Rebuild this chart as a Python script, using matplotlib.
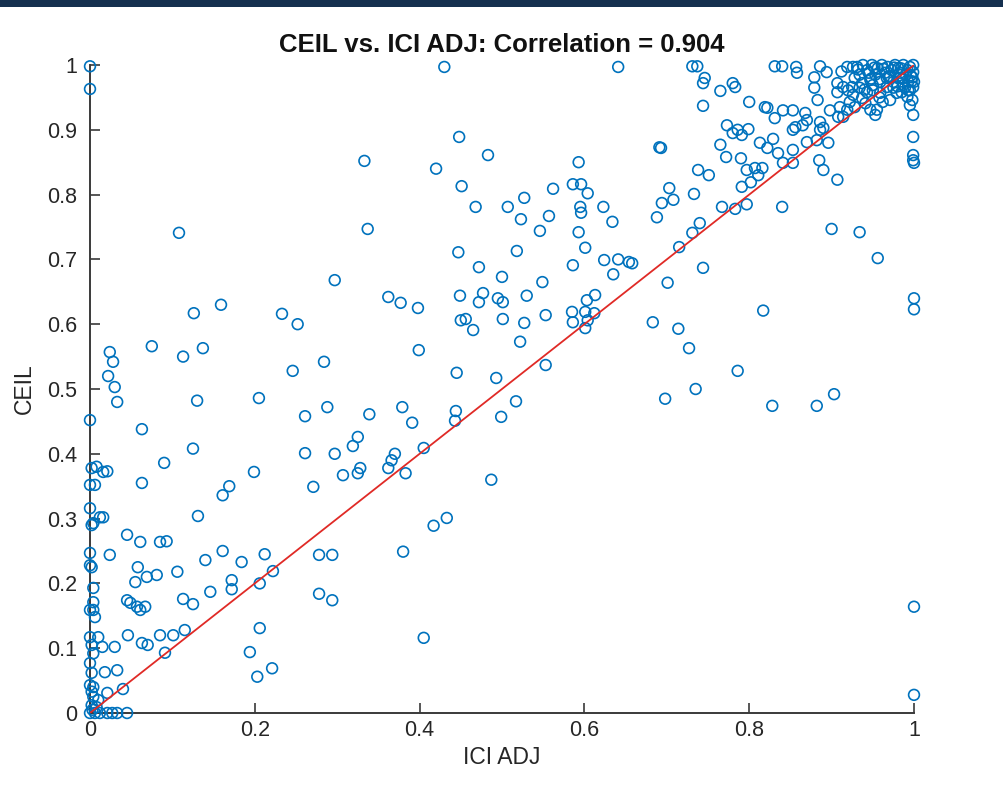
import matplotlib
matplotlib.use("Agg")
import matplotlib.pyplot as plt
from matplotlib.patches import Rectangle

plt.rcParams['font.family'] = ['Liberation Sans', 'DejaVu Sans']

# ICI ADJ (x) and CEIL (y) pairs
ici_zero_col = [0.0, 0.0, 0.0, 0.002, 0.0, 0.006, 0.0, 0.004, 0.008, 0.016, 0.021, 0.012, 0.016,
                0.002, 0.0, 0.0, 0.002, 0.004, 0.004, 0.0, 0.004, 0.006, 0.0, 0.010, 0.002, 0.015,
                0.004, 0.030, 0.0, 0.002, 0.0, 0.004, 0.002, 0.004, 0.021, 0.018, 0.033, 0.040,
                0.002, 0.008, 0.0, 0.006, 0.012, 0.021, 0.027, 0.033, 0.045, 0.003, 0.010]
ceil_zero_col = [0.998, 0.963, 0.452, 0.378, 0.352, 0.352, 0.316, 0.293, 0.380, 0.372, 0.373, 0.302, 0.302,
                 0.290, 0.247, 0.228, 0.225, 0.193, 0.171, 0.159, 0.159, 0.148, 0.117, 0.117, 0.105, 0.102,
                 0.092, 0.102, 0.077, 0.062, 0.043, 0.040, 0.033, 0.025, 0.031, 0.063, 0.066, 0.037,
                 0.012, 0.009, 0.0, 0.0, 0.0, 0.0, 0.0, 0.0, 0.0, 0.005, 0.020]

ici_low = [0.024, 0.045, 0.061, 0.085, 0.093, 0.058, 0.055, 0.069, 0.081, 0.106, 0.045, 0.049, 0.057,
           0.061, 0.067, 0.113, 0.125, 0.140, 0.161, 0.146, 0.172, 0.172, 0.184, 0.212, 0.206, 0.222,
           0.278, 0.294, 0.278, 0.294, 0.046, 0.063, 0.070, 0.085, 0.101, 0.115, 0.091, 0.194, 0.206,
           0.203, 0.221, 0.024, 0.028, 0.022, 0.030, 0.033, 0.075, 0.113, 0.137, 0.126, 0.159, 0.130,
           0.063, 0.090, 0.125, 0.063, 0.131, 0.161, 0.169, 0.199, 0.205, 0.233, 0.252, 0.246, 0.284,
           0.261, 0.288, 0.261, 0.297, 0.271, 0.307, 0.319, 0.325, 0.328, 0.325, 0.297, 0.108, 0.333]
ceil_low = [0.244, 0.275, 0.264, 0.264, 0.265, 0.225, 0.202, 0.210, 0.213, 0.218, 0.174, 0.170, 0.164,
            0.159, 0.164, 0.176, 0.168, 0.236, 0.250, 0.187, 0.205, 0.191, 0.233, 0.245, 0.200, 0.219,
            0.244, 0.244, 0.184, 0.174, 0.120, 0.108, 0.105, 0.120, 0.120, 0.128, 0.093, 0.094, 0.131,
            0.056, 0.069, 0.557, 0.542, 0.520, 0.503, 0.480, 0.566, 0.550, 0.563, 0.617, 0.630, 0.482,
            0.438, 0.386, 0.408, 0.355, 0.304, 0.336, 0.350, 0.372, 0.486, 0.616, 0.600, 0.528, 0.542,
            0.458, 0.472, 0.401, 0.400, 0.349, 0.367, 0.412, 0.426, 0.378, 0.370, 0.668, 0.741, 0.852]

ici_mid = [0.430, 0.641, 0.448, 0.483, 0.420, 0.451, 0.593, 0.468, 0.507, 0.527, 0.523, 0.557, 0.562,
           0.586, 0.596, 0.604, 0.595, 0.596, 0.623, 0.634, 0.546, 0.593, 0.337, 0.601, 0.447, 0.518,
           0.586, 0.624, 0.641, 0.654, 0.658, 0.472, 0.635, 0.500, 0.549, 0.362, 0.377, 0.398, 0.449,
           0.477, 0.472, 0.495, 0.501, 0.530, 0.450, 0.456, 0.465, 0.501, 0.527, 0.553, 0.522, 0.585,
           0.603, 0.613, 0.601, 0.612, 0.586, 0.604, 0.601, 0.399, 0.445, 0.493, 0.553, 0.379, 0.339,
           0.391, 0.444, 0.443, 0.517, 0.499, 0.370, 0.366, 0.362, 0.383, 0.405, 0.487, 0.433, 0.417,
           0.380, 0.405]
ceil_mid = [0.997, 0.997, 0.889, 0.861, 0.840, 0.813, 0.850, 0.781, 0.781, 0.795, 0.762, 0.767, 0.809,
            0.816, 0.816, 0.802, 0.781, 0.772, 0.781, 0.758, 0.744, 0.742, 0.747, 0.718, 0.711, 0.713,
            0.691, 0.699, 0.700, 0.696, 0.694, 0.688, 0.677, 0.673, 0.665, 0.642, 0.633, 0.625, 0.644,
            0.648, 0.634, 0.640, 0.634, 0.644, 0.606, 0.608, 0.591, 0.608, 0.602, 0.614, 0.573, 0.619,
            0.637, 0.645, 0.619, 0.617, 0.603, 0.606, 0.594, 0.560, 0.525, 0.517, 0.537, 0.472, 0.461,
            0.448, 0.466, 0.451, 0.481, 0.457, 0.400, 0.390, 0.378, 0.370, 0.409, 0.360, 0.301, 0.289,
            0.249, 0.116]

ici_high = [0.731, 0.737, 0.746, 0.744, 0.765, 0.780, 0.783, 0.800, 0.744, 0.831, 0.840, 0.857, 0.858,
            0.886, 0.879, 0.894, 0.907, 0.919, 0.926, 0.819, 0.822, 0.831, 0.841, 0.853, 0.868, 0.870,
            0.865, 0.853, 0.856, 0.883, 0.898, 0.910, 0.886, 0.890, 0.886, 0.908, 0.896, 0.882, 0.870,
            0.773, 0.786, 0.780, 0.799, 0.791, 0.691, 0.693, 0.765, 0.772, 0.790, 0.813, 0.822, 0.829,
            0.835, 0.853, 0.841, 0.853, 0.885, 0.890, 0.907, 0.738, 0.751, 0.797, 0.807, 0.816, 0.811,
            0.802, 0.791, 0.703, 0.708, 0.694, 0.688, 0.733, 0.767, 0.783, 0.797, 0.840, 0.740, 0.731,
            0.715, 0.900, 0.934, 0.956, 0.744, 0.701, 0.999, 0.999, 0.999, 0.999, 1.000, 0.998, 0.995,
            0.999, 0.971, 0.683, 0.714, 0.727, 0.817, 0.786, 0.698, 0.735, 0.828, 0.882, 0.903, 1.000,
            1.000, 1.000, 1.000]
ceil_high = [0.998, 0.998, 0.980, 0.972, 0.960, 0.972, 0.966, 0.943, 0.937, 0.998, 0.998, 0.997, 0.988,
             0.998, 0.981, 0.989, 0.972, 0.997, 0.997, 0.935, 0.934, 0.918, 0.930, 0.930, 0.926, 0.915,
             0.907, 0.900, 0.904, 0.946, 0.930, 0.935, 0.912, 0.903, 0.900, 0.920, 0.880, 0.884, 0.881,
             0.907, 0.900, 0.895, 0.901, 0.892, 0.873, 0.872, 0.877, 0.858, 0.856, 0.880, 0.872, 0.886,
             0.864, 0.869, 0.849, 0.849, 0.853, 0.838, 0.823, 0.838, 0.830, 0.838, 0.841, 0.841, 0.830,
             0.819, 0.812, 0.810, 0.792, 0.787, 0.765, 0.801, 0.781, 0.778, 0.785, 0.781, 0.756, 0.741,
             0.719, 0.747, 0.742, 0.702, 0.687, 0.664, 0.923, 0.889, 0.861, 0.853, 0.849, 0.946, 0.961,
             0.966, 0.946, 0.603, 0.593, 0.563, 0.621, 0.528, 0.485, 0.500, 0.474, 0.474, 0.492, 0.640,
             0.623, 0.164, 0.028]

ici_top = [0.931, 0.934, 0.938, 0.943, 0.949, 0.953, 0.956, 0.961, 0.965, 0.968, 0.973, 0.977, 0.981,
           0.983, 0.987, 0.992, 0.995, 0.999, 0.999, 0.998, 1.000, 0.993, 0.987, 0.989, 0.993, 0.983,
           0.975, 0.967, 0.959, 0.950, 0.947, 0.937, 0.928, 0.925, 0.934, 0.943, 0.950, 0.967, 0.959,
           0.937, 0.926, 0.920, 0.914, 0.907, 0.922, 0.928, 0.941, 0.947, 0.955, 0.953, 0.992, 0.995,
           0.975, 0.979, 0.985, 0.962, 0.919, 0.914, 0.879, 0.940, 0.958, 0.971, 0.980, 0.990, 0.997,
           0.945, 0.963, 0.976, 0.986, 0.912, 0.932, 0.952, 0.969, 0.984, 0.996, 0.958, 0.948]
ceil_top = [0.997, 0.985, 1.000, 0.992, 1.000, 0.985, 0.995, 1.000, 0.988, 0.997, 0.992, 1.000, 0.995,
            0.988, 1.000, 0.992, 0.997, 1.000, 0.989, 0.981, 0.974, 0.974, 0.969, 0.965, 0.961, 0.980,
            0.974, 0.980, 0.974, 0.969, 0.977, 0.972, 0.980, 0.966, 0.965, 0.958, 0.961, 0.966, 0.957,
            0.949, 0.954, 0.961, 0.966, 0.958, 0.943, 0.935, 0.941, 0.931, 0.931, 0.923, 0.951, 0.938,
            0.965, 0.957, 0.958, 0.943, 0.931, 0.920, 0.965, 0.962, 0.978, 0.983, 0.967, 0.985, 0.975,
            0.988, 0.994, 0.996, 0.979, 0.990, 0.993, 0.996, 0.982, 0.995, 0.984, 0.950, 0.979]

ici_adj = ici_zero_col + ici_low + ici_mid + ici_high + ici_top
ceil_vals = ceil_zero_col + ceil_low + ceil_mid + ceil_high + ceil_top

correlation = 0.904
x_ticks = [0, 0.2, 0.4, 0.6, 0.8, 1]
x_tick_labels = ['0', '0.2', '0.4', '0.6', '0.8', '1']
y_ticks = [0, 0.1, 0.2, 0.3, 0.4, 0.5, 0.6, 0.7, 0.8, 0.9, 1]
y_tick_labels = ['0', '0.1', '0.2', '0.3', '0.4', '0.5', '0.6', '0.7', '0.8', '0.9', '1']
ref_line = [0, 1]

fig = plt.figure(figsize=(10.04, 7.95), dpi=100)
fig.patches.append(Rectangle((0, 1 - 7 / 795), 1, 7 / 795, transform=fig.transFigure,
                             facecolor='#15304f', edgecolor='none', zorder=0))
ax = fig.add_axes([90 / 1004, 82 / 795, 824 / 1004, 648 / 795])

ax.scatter(ici_adj, ceil_vals, s=60, facecolors='none', edgecolors='#0072BD',
           linewidths=1.2, zorder=3, clip_on=False)
ax.plot(ref_line, ref_line, color='#e02a26', linewidth=1.3, zorder=4)

ax.set_xlim(0, 1)
ax.set_ylim(0, 1)
ax.set_xticks(x_ticks)
ax.set_xticklabels(x_tick_labels)
ax.set_yticks(y_ticks)
ax.set_yticklabels(y_tick_labels)

for side in ('top', 'right'):
    ax.spines[side].set_visible(False)
for side in ('left', 'bottom'):
    ax.spines[side].set_color('#3a3a3a')
    ax.spines[side].set_linewidth(1.4)

ax.tick_params(axis='both', direction='in', length=7, width=1.2, color='#3a3a3a',
               labelsize=15.5, labelcolor='#262626')
ax.tick_params(axis='y', pad=9)
ax.tick_params(axis='x', pad=5)

ax.set_xlabel('ICI ADJ', fontsize=16.5, color='#262626', labelpad=4)
ax.set_ylabel('CEIL', fontsize=16.5, color='#262626', labelpad=8)
ax.set_title(f'CEIL vs. ICI ADJ: Correlation = {correlation:.3f}', fontsize=18.5,
             fontweight='bold', color='#111111', pad=9)

fig.savefig('out.png', dpi=100, facecolor='white')
